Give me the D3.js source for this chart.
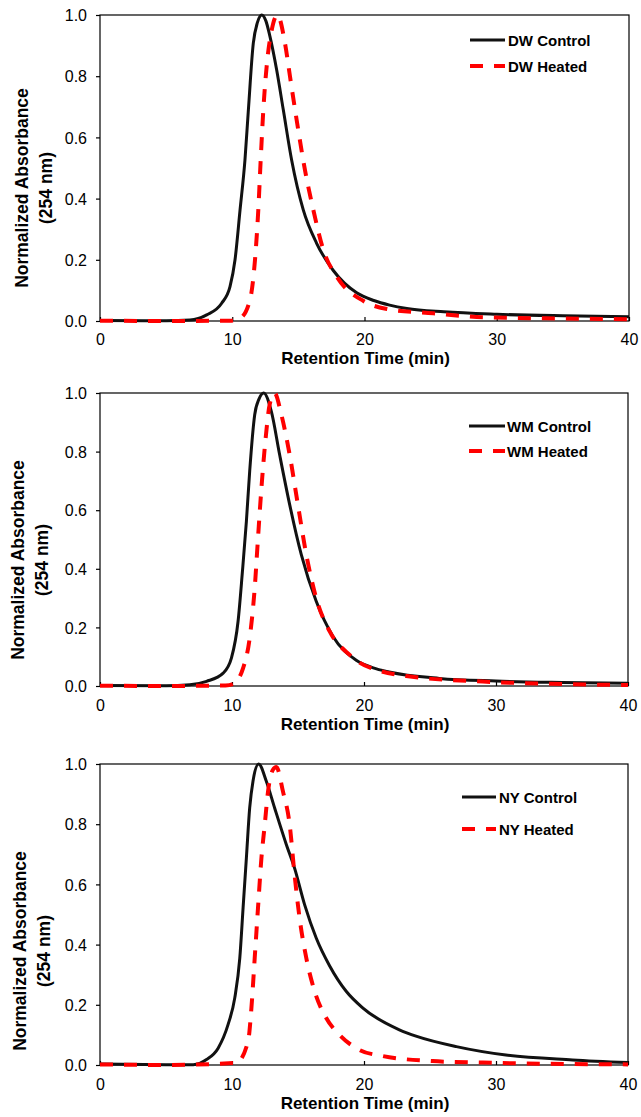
<!DOCTYPE html>
<html>
<head>
<meta charset="utf-8">
<script src="https://cdn.jsdelivr.net/npm/d3@7"></script>
<style>
body { margin: 0; background: #fff; }
text { font-family: "Liberation Sans", Arial, sans-serif; fill: #000; }
</style>
</head>
<body>
<svg id="chart" width="641" height="1117"></svg>
<script>
// Axis ticks and titles
const xTicks = [0, 10, 20, 30, 40];
const yTicks = [0, 0.2, 0.4, 0.6, 0.8, 1.0];
const xTitle = "Retention Time (min)";
const yTitle = ["Normalized Absorbance", "(254 nm)"];

// DW
const dwControlT = [0, 5, 6.8, 8.07, 9.2, 9.83, 10.21, 10.59, 10.96, 11.22, 11.59, 11.9, 12.23, 12.55, 12.85, 13.36, 13.86, 14.49, 15.37, 16.38, 17.64, 19.41, 20.7, 21.9, 23.2, 26, 30, 35, 40];
const dwControlY = [0.002, 0.001, 0.003, 0.02, 0.058, 0.112, 0.2, 0.363, 0.526, 0.69, 0.907, 0.975, 1.0, 0.98, 0.93, 0.82, 0.69, 0.526, 0.363, 0.254, 0.165, 0.092, 0.067, 0.052, 0.041, 0.03, 0.022, 0.017, 0.014];
const dwHeatedT = [0, 5, 9.83, 10.59, 11.34, 11.72, 11.97, 12.15, 12.35, 12.65, 12.98, 13.41, 13.99, 14.37, 14.87, 15.5, 16.13, 16.89, 17.9, 19.9, 21.6, 25.2, 29, 33.3, 40];
const dwHeatedY = [0.001, 0, 0.001, 0.009, 0.069, 0.2, 0.363, 0.526, 0.69, 0.853, 0.95, 1.0, 0.907, 0.798, 0.657, 0.493, 0.363, 0.232, 0.145, 0.066, 0.04, 0.025, 0.012, 0.009, 0.006];

// WM
const wmControlT = [0, 5, 6.8, 8.07, 9.33, 9.96, 10.46, 10.79, 11.09, 11.34, 11.72, 12.05, 12.4, 12.98, 13.61, 14.37, 15.25, 16.38, 17.64, 19.41, 20.7, 21.9, 25.7, 30, 35, 40];
const wmControlY = [0.002, 0.001, 0.004, 0.016, 0.044, 0.096, 0.221, 0.391, 0.562, 0.733, 0.926, 0.98, 1.0, 0.937, 0.789, 0.619, 0.448, 0.289, 0.17, 0.088, 0.062, 0.048, 0.026, 0.017, 0.012, 0.009];
const wmHeatedT = [0, 5, 9.5, 10.08, 10.84, 11.34, 11.72, 11.97, 12.23, 12.55, 12.85, 13.23, 13.74, 14.37, 14.99, 15.63, 16.38, 17.39, 18.9, 19.66, 20.9, 23.2, 29, 35, 40];
const wmHeatedY = [0.001, 0, 0.002, 0.007, 0.061, 0.164, 0.334, 0.505, 0.676, 0.846, 0.96, 1.0, 0.926, 0.789, 0.619, 0.448, 0.3, 0.187, 0.107, 0.08, 0.056, 0.034, 0.015, 0.007, 0.003];

// NY
const nyControlT = [0, 5, 7.06, 8.07, 8.95, 9.7, 10.21, 10.59, 10.84, 11.09, 11.34, 11.59, 12.02, 12.6, 13.23, 14.12, 14.74, 15.5, 16.38, 17.39, 18.65, 19.9, 22.68, 24, 27, 30.75, 35.8, 40];
const nyControlY = [0.003, 0.001, 0.001, 0.018, 0.056, 0.134, 0.223, 0.355, 0.522, 0.688, 0.854, 0.943, 1.0, 0.943, 0.854, 0.732, 0.654, 0.533, 0.422, 0.33, 0.245, 0.19, 0.117, 0.095, 0.061, 0.033, 0.017, 0.008];
const nyHeatedT = [0, 5, 10.33, 11.22, 11.47, 11.72, 11.97, 12.23, 12.48, 12.73, 13.1, 13.36, 13.86, 14.37, 14.74, 15.12, 15.63, 16.26, 17.14, 18.15, 19.66, 21.4, 25.2, 29, 40];
const nyHeatedY = [0.002, 0, 0.007, 0.079, 0.189, 0.355, 0.522, 0.688, 0.798, 0.909, 0.981, 0.99, 0.909, 0.798, 0.632, 0.488, 0.355, 0.245, 0.156, 0.1, 0.05, 0.03, 0.013, 0.008, 0.002];

const dwLegend = ["DW Control", "DW Heated"];
const wmLegend = ["WM Control", "WM Heated"];
const nyLegend = ["NY Control", "NY Heated"];

const svg = d3.select("#chart");

function zip(t, y) {
  return t.map((d, i) => ({ t: d, v: y[i] }));
}

function drawPanel(p) {
  const x = d3.scaleLinear().domain([0, 40]).range([p.left, p.right]);
  const y = d3.scaleLinear().domain([0, 1]).range([p.bottom, p.top]);
  const g = svg.append("g");

  // frame
  g.append("rect")
    .attr("x", p.left).attr("y", p.top)
    .attr("width", p.right - p.left).attr("height", p.bottom - p.top)
    .attr("fill", "none").attr("stroke", "#000").attr("stroke-width", 1.2);

  // y axis: ticks outside
  const yAxis = g.append("g")
    .attr("transform", `translate(${p.left},0)`)
    .call(d3.axisLeft(y).tickValues(yTicks).tickSize(4).tickPadding(9).tickFormat(d3.format(".1f")));
  yAxis.select(".domain").remove();
  yAxis.selectAll("line").attr("stroke", "#000").attr("stroke-width", 1.2);
  yAxis.selectAll("text").attr("font-size", 16).attr("dy", "0.36em")
    .style("font-family", "'Liberation Sans', Arial, sans-serif");

  // x axis: ticks inside
  const xAxis = g.append("g")
    .attr("transform", `translate(0,${p.bottom})`)
    .call(d3.axisBottom(x).tickValues(xTicks).tickSize(0).tickPadding(p.xPad).tickFormat(d3.format("d")));
  xAxis.select(".domain").remove();
  xAxis.selectAll("text").attr("font-size", 16)
    .style("font-family", "'Liberation Sans', Arial, sans-serif");
  xAxis.selectAll(".tick").append("line")
    .attr("y1", 0).attr("y2", -4).attr("stroke", "#000").attr("stroke-width", 1.2);

  // titles
  g.append("text")
    .attr("x", (p.left + p.right) / 2 + 1).attr("y", p.xTitleY)
    .attr("text-anchor", "middle").attr("font-size", 17).attr("font-weight", "bold")
    .text(xTitle);
  yTitle.forEach((s, i) => {
    const cx = p.yTitleX[i];
    g.append("text")
      .attr("transform", `translate(${cx + 6.3},${p.yTitleY}) rotate(-90)`)
      .attr("text-anchor", "middle").attr("font-size", 17.5).attr("font-weight", "bold")
      .text(s);
  });

  const line = d3.line()
    .x(d => x(d.t)).y(d => y(d.v))
    .curve(d3.curveMonotoneX);

  g.append("path").datum(zip(p.controlT, p.controlY))
    .attr("d", line).attr("fill", "none")
    .attr("stroke", "#111").attr("stroke-width", 3);
  g.append("path").datum(zip(p.heatedT, p.heatedY))
    .attr("d", line).attr("fill", "none")
    .attr("stroke", "#ff0000").attr("stroke-width", 4)
    .attr("stroke-dasharray", "13,11");

  // legend
  const lg = p.legend;
  g.append("line").attr("x1", lg.x1).attr("x2", lg.x2).attr("y1", lg.y).attr("y2", lg.y)
    .attr("stroke", "#111").attr("stroke-width", 3);
  g.append("line").attr("x1", lg.x1).attr("x2", lg.x2).attr("y1", lg.y + lg.dy).attr("y2", lg.y + lg.dy)
    .attr("stroke", "#ff0000").attr("stroke-width", 4).attr("stroke-dasharray", "13,11");
  p.labels.forEach((s, i) => {
    g.append("text")
      .attr("x", lg.tx).attr("y", lg.y + i * lg.dy + 5.5)
      .attr("font-size", 15).attr("font-weight", "bold")
      .text(s);
  });
}

drawPanel({
  left: 100, right: 629, top: 15, bottom: 321, xPad: 13,
  xTitleY: 364, yTitleX: [22, 46], yTitleY: 188,
  controlT: dwControlT, controlY: dwControlY, heatedT: dwHeatedT, heatedY: dwHeatedY,
  labels: dwLegend,
  legend: { x1: 470, x2: 505, y: 40, dy: 26, tx: 508 }
});
drawPanel({
  left: 100, right: 628, top: 393, bottom: 686, xPad: 14,
  xTitleY: 730, yTitleX: [18, 42], yTitleY: 560,
  controlT: wmControlT, controlY: wmControlY, heatedT: wmHeatedT, heatedY: wmHeatedY,
  labels: wmLegend,
  legend: { x1: 469, x2: 505, y: 426, dy: 25, tx: 507 }
});
drawPanel({
  left: 100, right: 628, top: 764, bottom: 1065, xPad: 14,
  xTitleY: 1109, yTitleX: [20, 44], yTitleY: 951,
  controlT: nyControlT, controlY: nyControlY, heatedT: nyHeatedT, heatedY: nyHeatedY,
  labels: nyLegend,
  legend: { x1: 462, x2: 496, y: 797, dy: 32, tx: 499 }
});
</script>
</body>
</html>
